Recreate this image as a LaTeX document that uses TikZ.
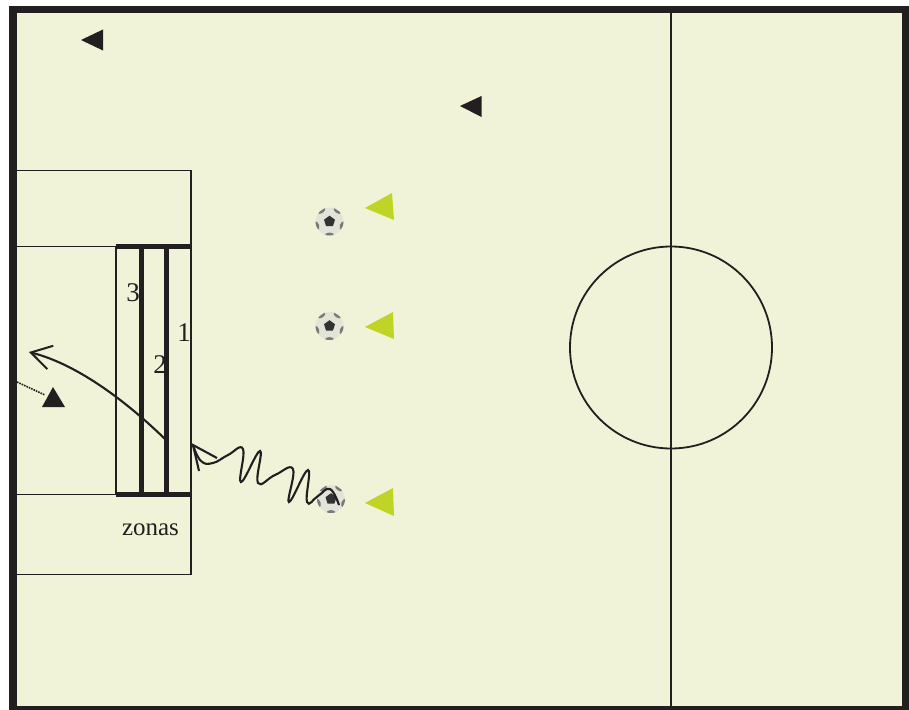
\documentclass[tikz,border=0pt]{standalone}
\usepackage{fontspec}
\setmainfont{Liberation Serif}
\usetikzlibrary{arrows.meta, shapes.geometric, positioning, calc}
\definecolor{FieldGreen}{RGB}{240,243,215}
\definecolor{LineBlack}{RGB}{35,31,32}
\definecolor{ConeLime}{RGB}{192,212,38}
\definecolor{BallWhite}{RGB}{226,228,216}
\definecolor{BallPatch}{RGB}{50,50,50}
\tikzset{
	fieldline/.style={draw=LineBlack, line width=1.8pt},
	zoneline/.style={draw=LineBlack, line width=4.2pt},
	zonelabel/.style={text=LineBlack, font=\fontsize{25}{27}\selectfont, inner sep=0pt},
	zonedigit/.style={text=LineBlack, font=\fontsize{27}{29}\selectfont, inner sep=0pt},
	darkmark/.style={fill=LineBlack},
	limemark/.style={fill=ConeLime},
	ballface/.style={circle, fill=BallWhite, minimum size=28pt, inner sep=0pt},
	openhead/.style={-{Straight Barb[length=20pt, width=24pt, line width=2pt]}},
	runline/.style={draw=LineBlack, line width=2.1pt}
}
% one ball, drawn around a named node
\newcommand{\ball}[2]{%
	\node[ballface] (#1) at (#2) {};
	\begin{scope}
		\clip (#2) circle (14pt);
		\fill[BallPatch] ($(#1)+(0,-5.8)$) -- ++(5.5,4) -- ++(-2.1,6.5) -- ++(-6.8,0) -- ++(-2.1,-6.5) -- cycle;
		\foreach \a in {270,342,198,54,126}
			\fill[BallPatch!65, rotate around={\a:(#2)}] ($(#1)+(13.8,0)$) ellipse (2.8pt and 4.6pt);
	\end{scope}
}
\begin{document}
\begin{tikzpicture}[x=1pt, y=-1pt]
	\useasboundingbox (0,0) rectangle (909,709);
	\fill[white] (0,0) rectangle (909,709);
	% campo
	\draw[fill=FieldGreen, draw=LineBlack, line width=7.5pt] (12.75,9.5) rectangle (905.75,709.75);
	\draw[fieldline] (671,13) -- (671,706);
	\node[circle, draw=LineBlack, line width=1.8pt, minimum size=202pt, inner sep=0pt] (centre) at (671,347.5) {};
	% area
	\draw[fieldline] (16,170.5) -- (191,170.5) -- (191,574.5) -- (16,574.5);
	\draw[fieldline] (16,246.5) -- (116,246.5);
	\draw[fieldline] (16,494.5) -- (116,494.5);
	\draw[fieldline] (116,246.5) -- (116,494.5);
	% zonas
	\draw[zoneline] (116,246.5) -- (191,246.5);
	\draw[zoneline] (116,494.5) -- (191,494.5);
	\draw[zoneline] (141.5,246.5) -- (141.5,494.5);
	\draw[zoneline] (166.5,246.5) -- (166.5,494.5);
	\node[zonedigit] (one) at (184,333) {1};
	\node[zonedigit] (two) at (160,365) {2};
	\node[zonedigit] (three) at (133,293) {3};
	\node[zonelabel] (zones) at (150.5,530) {zonas};
	% conos
	\fill[darkmark] (81,40) -- (103,29.5) -- (103,50.5) -- cycle;
	\fill[darkmark] (460,106) -- (481.5,96) -- (481.5,117) -- cycle;
	\fill[darkmark] (53,387) -- (65,407) -- (42,407) -- cycle;
	\fill[limemark] (365,208) -- (392,193) -- (394,220) -- cycle;
	\fill[limemark] (365,327) -- (393,312) -- (394,339) -- cycle;
	\fill[limemark] (365,503) -- (393,488) -- (394,516) -- cycle;
	% balones
	\ball{balla}{329.5,221.5}
	\ball{ballb}{329.5,326}
	\ball{ballc}{331,499}
	% carreras
	\coordinate (dotstart) at (17,382);
	\coordinate (keeper) at (45,395);
	\draw[LineBlack, line width=1.6pt, densely dotted] (dotstart) -- (keeper);
	\coordinate (shotstart) at (165,439);
	\coordinate (shotend) at (29,352);
	\draw[runline, openhead] (shotstart) .. controls (130,405) and (80,365) .. (shotend);
	\coordinate (dribblestart) at (339,505);
	\coordinate (dribbleend) at (193,445);
	\coordinate (barbup) at (217,458);
	\coordinate (barbdown) at (199,471);
	\draw[runline] plot[smooth, tension=0.75] coordinates {(dribblestart) (330,489) (318,496) (307,502)
		(308,470) (289,502) (293,469) (275,475) (258,483) (260,451) (241,482) (243,449)
		(228,455) (213,463) (201,461) (dribbleend)};
	\draw[runline] (barbup) -- (dribbleend) -- (barbdown);
\end{tikzpicture}
\end{document}
